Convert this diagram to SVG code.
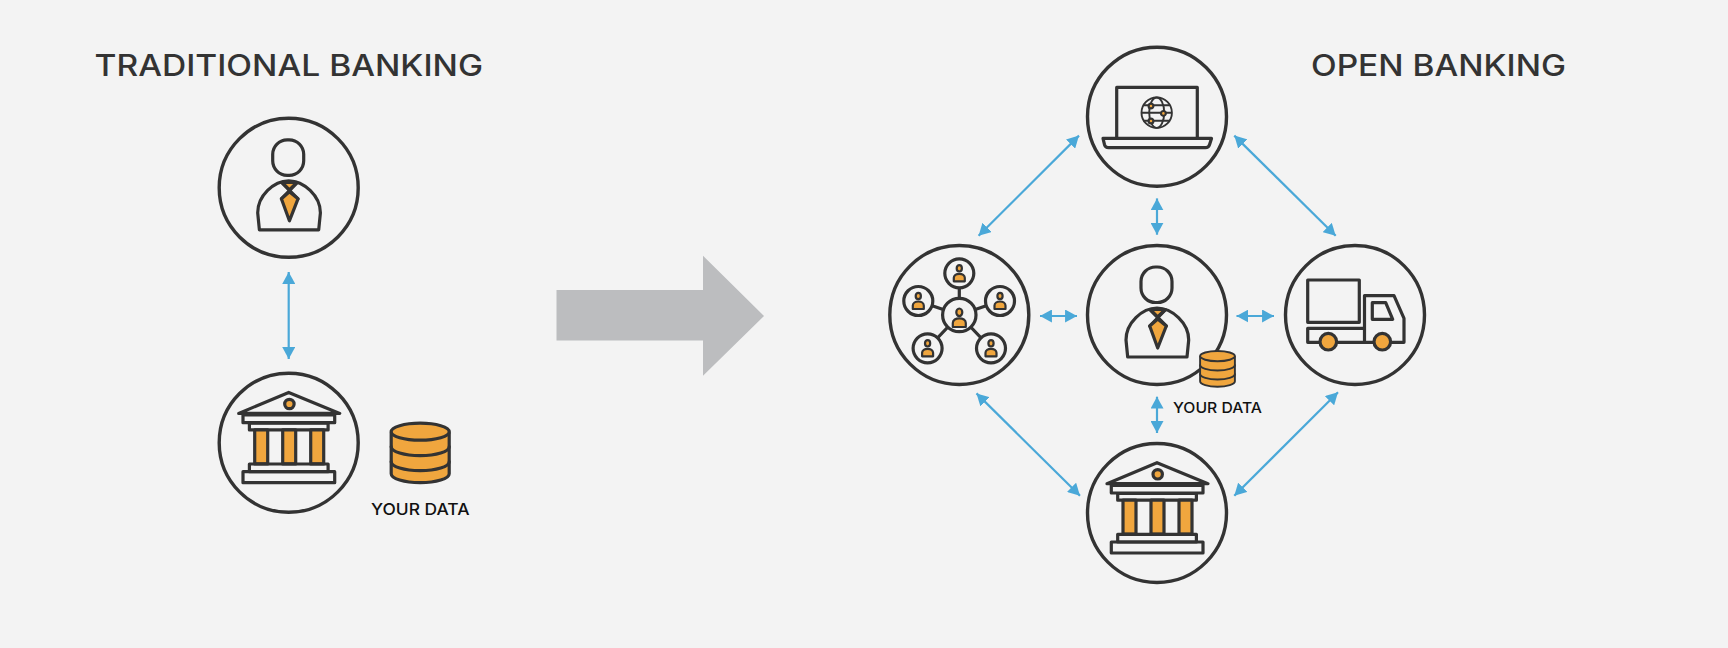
<svg xmlns="http://www.w3.org/2000/svg" xmlns:xlink="http://www.w3.org/1999/xlink" width="1728" height="648" viewBox="0 0 1728 648">
<style>
.ring{fill:#f3f3f3;stroke:#333;stroke-width:3.4}
.ic{fill:none;stroke:#333;stroke-width:3.2;stroke-linejoin:round;stroke-linecap:round}
.wf{fill:#f3f3f3;stroke:#333;stroke-width:3.2;stroke-linejoin:round}
.or{fill:#f0a63e;stroke:#333;stroke-width:3.2;stroke-linejoin:round}
.thin{fill:none;stroke:#333;stroke-width:1.9}
.orf{fill:#f0a63e;stroke:#333;stroke-width:2.2;stroke-linejoin:round}
.cn{fill:none;stroke:#4aa8d8;stroke-width:2.2;marker-start:url(#ah);marker-end:url(#ah)}
.h{font-family:Inter,"Liberation Sans",sans-serif;font-size:30px;font-weight:500;fill:#333}
.l{font-family:Inter,"Liberation Sans",sans-serif;font-weight:500;fill:#111}
</style>
<defs>
<marker id="ah" markerUnits="userSpaceOnUse" markerWidth="13" markerHeight="13" viewBox="0 0 12 12" refX="11" refY="6" orient="auto-start-reverse"><path d="M0 0L11 6L0 12Z" fill="#4aa8d8"/></marker>
<g id="person">
<rect class="ic" x="-16" y="-48" width="31" height="35.5" rx="14.5"/>
<path class="ic" d="M-29.3 42L-31 25C-31 8-15-7 0-7S31.7 8 31.7 25L30 42Z"/>
<path class="or" stroke-width="2" d="M-6.7-5.5L8.3-5.5L0.7 2Z"/>
<path class="ic" d="M-6.7-5L9.3 11M8.3-5L-7.3 11"/>
<path class="or" d="M0.7 4L9.3 11L0.7 33L-7.3 11Z"/>
</g>
<g id="bank">
<path class="ic" d="M-50-29.3L0-50.3L51-29.3Z"/>
<circle class="or" cx="0.7" cy="-38.7" r="4.7"/>
<rect class="ic" x="-45.7" y="-27.7" width="91.7" height="7.7"/>
<rect class="ic" x="-39.3" y="-19.5" width="78.7" height="6.7"/>
<rect class="or" x="-34" y="-12.8" width="13" height="34"/>
<rect class="or" x="-6" y="-12.8" width="13" height="34"/>
<rect class="or" x="22" y="-12.8" width="13" height="34"/>
<rect class="ic" x="-39.3" y="21.3" width="78.7" height="7.7"/>
<rect class="ic" x="-45.7" y="29" width="91.7" height="11"/>
</g>
<g id="cyl">
<path class="or" d="M-29-20V21C-29 26-16 30 0 30S29 26 29 21V-20Z"/>
<ellipse class="or" cx="0" cy="-21" rx="29" ry="8.5"/>
<path class="ic" d="M-29-6C-29-1-16 3 0 3S29-1 29-6M-29 9C-29 14-16 18 0 18S29 14 29 9"/>
</g>
<g id="sat">
<circle class="wf" r="14.5"/>
<ellipse class="orf" cx="0" cy="-5" rx="2.6" ry="3.2"/>
<path class="orf" d="M-5.5 8V4.5C-5.5 2-3 0.5 0 0.5S5.5 2 5.5 4.5V8Z"/>
</g>
</defs>
<rect width="1728" height="648" fill="#f3f3f3"/>
<text class="h" x="94.5" y="75.5" textLength="388.5" lengthAdjust="spacingAndGlyphs">TRADITIONAL BANKING</text>
<text class="h" x="1311" y="75.5" textLength="255" lengthAdjust="spacingAndGlyphs">OPEN BANKING</text>
<path id="big-arrow" d="M556.5 290H703V255.7L764 316L703 375.8V340.5H556.5Z" fill="#bcbdbf"/>
<g id="connectors">
<path class="cn" d="M288.7 272V359"/>
<path class="cn" d="M1079 135.6L978.6 235.8"/>
<path class="cn" d="M1234.3 135.6L1335.7 235.8"/>
<path class="cn" d="M976.5 393.4L1080 495.7"/>
<path class="cn" d="M1338 392.3L1234.3 495.7"/>
<path class="cn" d="M1157 198.4V234.7"/>
<path class="cn" d="M1157 396.7V433"/>
<path class="cn" d="M1040 316H1077"/>
<path class="cn" d="M1236.5 316H1274"/>
</g>
<g id="trad-customer"><circle class="ring" cx="288.7" cy="187.8" r="69.5"/><use xlink:href="#person" href="#person" transform="translate(288.7 187.8)"/></g>
<g id="trad-bank"><circle class="ring" cx="288.7" cy="442.7" r="69.5"/><use xlink:href="#bank" href="#bank" transform="translate(288.7 442.7)"/></g>
<g id="trad-data"><use xlink:href="#cyl" href="#cyl" transform="translate(420.2 452.7)"/><text class="l" x="371" y="515" font-size="16" textLength="98.5" lengthAdjust="spacingAndGlyphs">YOUR DATA</text></g>
<g id="laptop"><circle class="ring" cx="1157" cy="116.7" r="69.5"/>
<g transform="translate(1157 116.7)">
<path class="ic" d="M-40.3 21.7V-29.3H40.3V21.7"/>
<path class="ic" d="M-54 21.7H54.5L52.5 28Q51.5 31 48.5 31H-48.5Q-51.5 31-52.5 28Z"/>
<g transform="translate(-.3 -4)">
<circle class="thin" r="15.2"/><ellipse class="thin" rx="7.5" ry="15.2"/><path class="thin" d="M-13-7.5H13M-15 0H15M-13 8H13"/>
<circle cx="-5.7" cy="-6.7" r="2.4" class="orf" stroke-width="1.3"/><circle cx="6.7" cy=".7" r="2.4" class="orf" stroke-width="1.3"/><circle cx="-5.7" cy="8.3" r="2.4" class="orf" stroke-width="1.3"/>
</g></g></g>
<g id="network"><circle class="ring" cx="959.3" cy="315" r="69.5"/>
<g transform="translate(959.3 315)">
<path class="ic" d="M0 0V-41.7M0 0L-41-14M0 0L40.7-14M0 0L-31.7 33.3M0 0L31.7 33.3"/>
<circle class="wf" r="16.7"/>
<ellipse class="orf" cx="0" cy="-2.7" rx="3" ry="3.8"/>
<path class="orf" d="M-6.5 12V8C-6.5 5-3.5 3.3 0 3.3S6.5 5 6.5 8V12Z"/>
<use xlink:href="#sat" href="#sat" x="0" y="-41.7"/>
<use xlink:href="#sat" href="#sat" x="-41" y="-14"/>
<use xlink:href="#sat" href="#sat" x="40.7" y="-14"/>
<use xlink:href="#sat" href="#sat" x="-31.7" y="33.3"/>
<use xlink:href="#sat" href="#sat" x="31.7" y="33.3"/>
</g></g>
<g id="customer"><circle class="ring" cx="1157" cy="315" r="69.5"/><use xlink:href="#person" href="#person" transform="translate(1157 315)"/>
<use xlink:href="#cyl" href="#cyl" transform="translate(1217.5 368.7) scale(.6)"/>
<text class="l" x="1173" y="412.7" font-size="14.5" textLength="89" lengthAdjust="spacingAndGlyphs">YOUR DATA</text></g>
<g id="truck"><circle class="ring" cx="1355" cy="315" r="69.5"/>
<g transform="translate(1355 315)">
<rect class="ic" x="-47.3" y="-35" width="51.6" height="42.3"/>
<path class="ic" d="M-47.3 13.3H9.5M-47.3 13.3V27.3H49V3.3L39-19.3H9.5V27.3"/>
<path class="ic" d="M17.3-12.3H30.7L37.7 4.3H17.3Z"/>
<circle class="or" cx="-26.7" cy="26.7" r="8.3"/><circle class="or" cx="27.3" cy="26.7" r="8.3"/>
</g></g>
<g id="open-bank"><circle class="ring" cx="1157" cy="513" r="69.5"/><use xlink:href="#bank" href="#bank" transform="translate(1157 513)"/></g>
</svg>
